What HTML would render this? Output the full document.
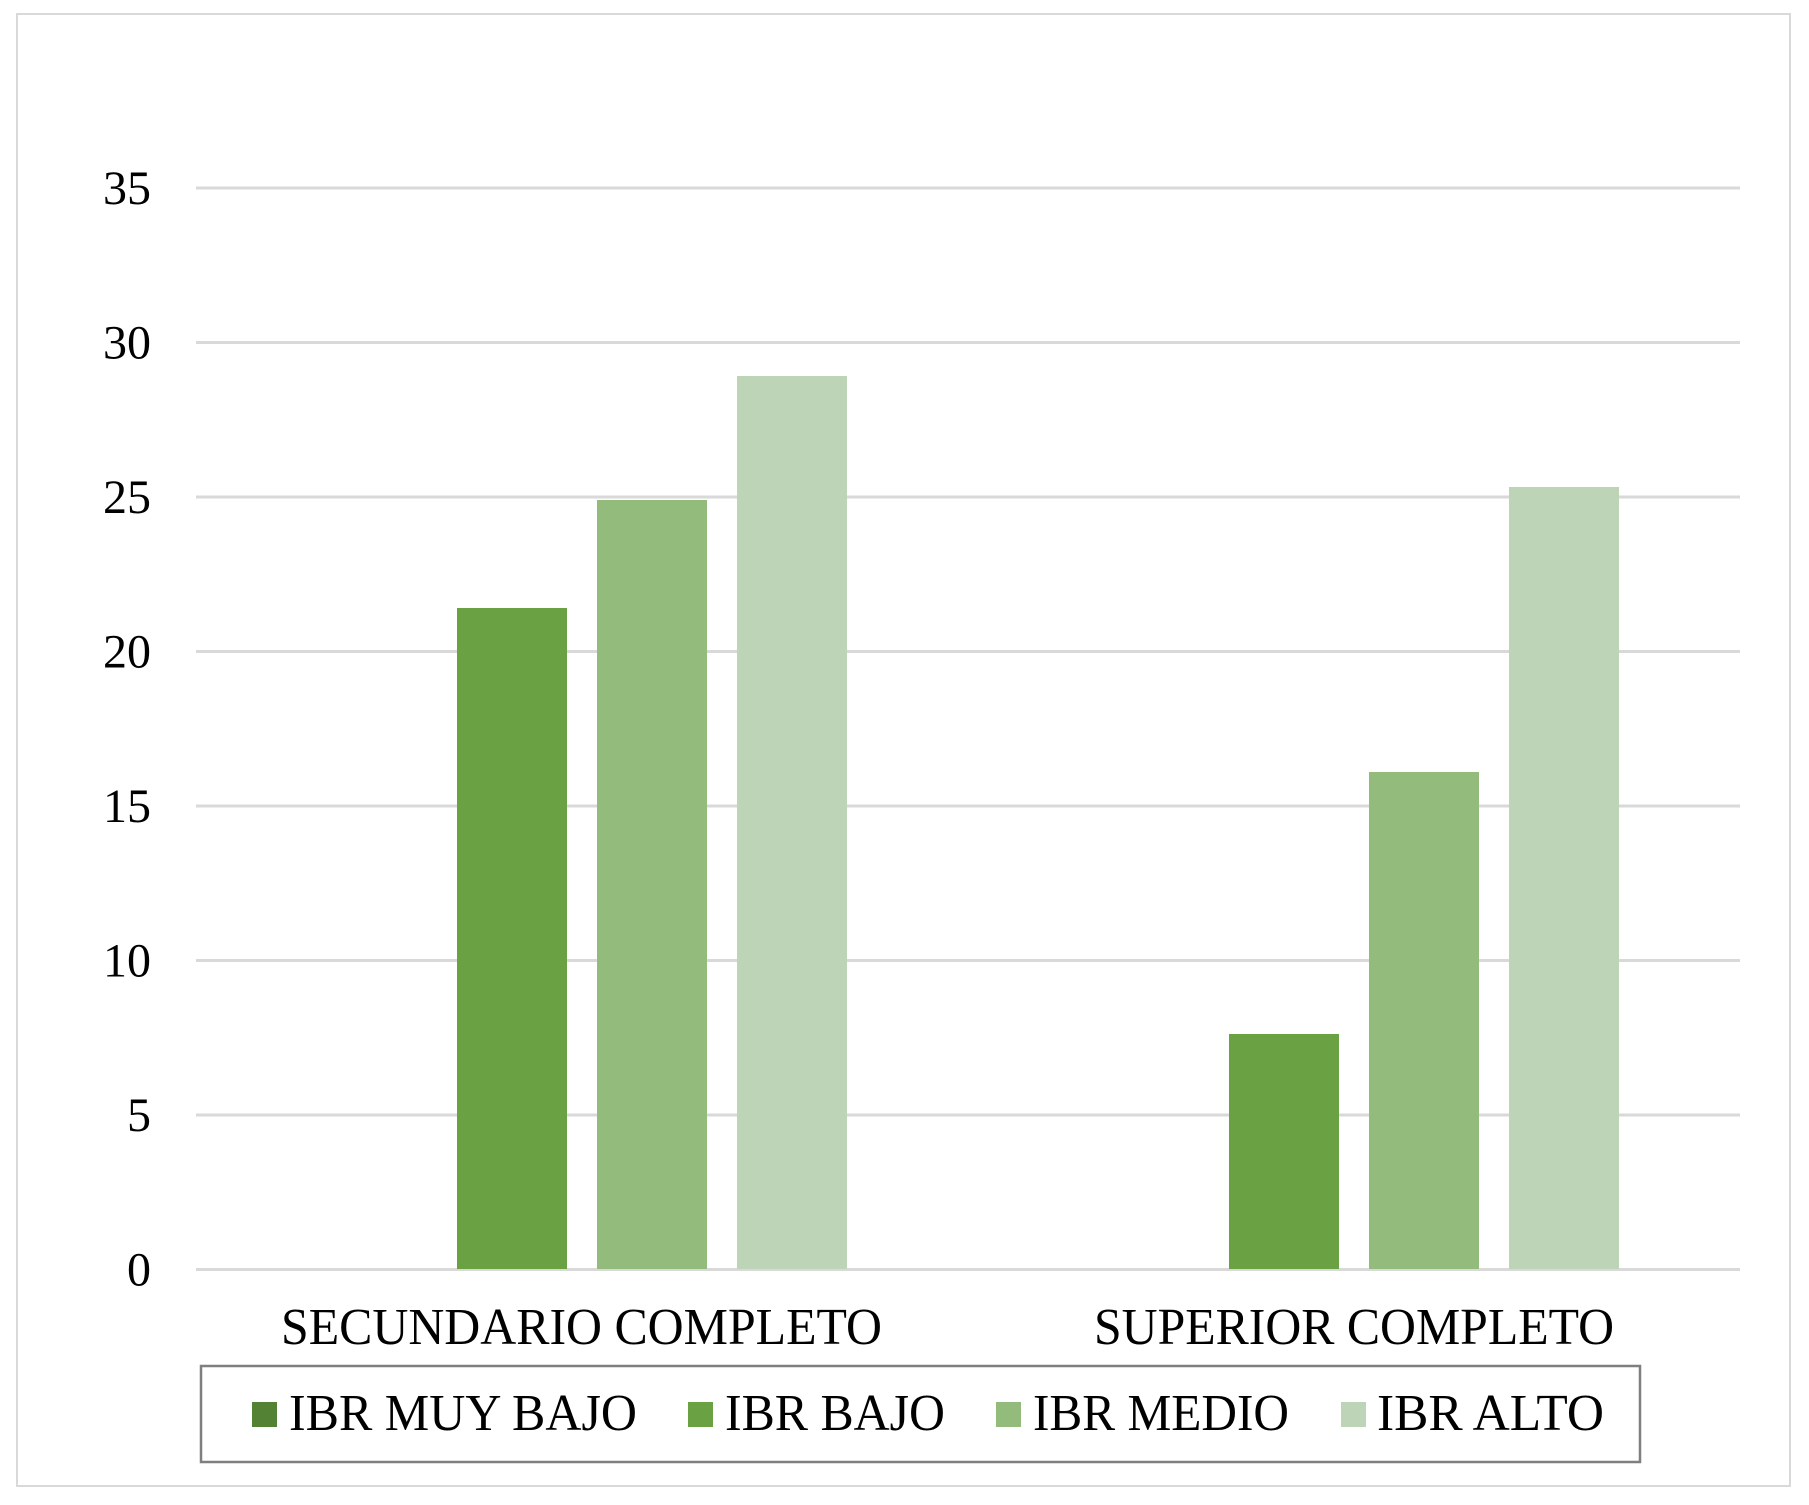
<!DOCTYPE html>
<html><head><meta charset="utf-8"><style>
html,body{margin:0;padding:0;background:#fff;}
svg{display:block;}
text{font-family:"Liberation Serif","Times New Roman",serif;fill:#000;}
</style></head><body>
<svg width="1809" height="1505" viewBox="0 0 1809 1505" xmlns="http://www.w3.org/2000/svg">
<rect x="17" y="14" width="1773" height="1472" fill="#fff" stroke="#d9d9d9" stroke-width="2"/>
<g stroke="#d9d9d9" stroke-width="3">
<line x1="196" x2="1740" y1="188" y2="188"/>
<line x1="196" x2="1740" y1="342.5" y2="342.5"/>
<line x1="196" x2="1740" y1="497" y2="497"/>
<line x1="196" x2="1740" y1="651.5" y2="651.5"/>
<line x1="196" x2="1740" y1="806" y2="806"/>
<line x1="196" x2="1740" y1="960.5" y2="960.5"/>
<line x1="196" x2="1740" y1="1115" y2="1115"/>
<line x1="196" x2="1740" y1="1269.5" y2="1269.5"/>
</g>
<g font-size="48" text-anchor="end">
<text x="151" y="204">35</text>
<text x="151" y="358.5">30</text>
<text x="151" y="513">25</text>
<text x="151" y="667.5">20</text>
<text x="151" y="822">15</text>
<text x="151" y="976.5">10</text>
<text x="151" y="1131">5</text>
<text x="151" y="1285.5">0</text>
</g>
<rect x="457" y="608" width="110" height="661" fill="#6aa142"/>
<rect x="597" y="500" width="110" height="769" fill="#93bb7b"/>
<rect x="737" y="376" width="110" height="893" fill="#bdd5b6"/>
<rect x="1229" y="1034" width="110" height="235" fill="#6aa142"/>
<rect x="1369" y="772" width="110" height="497" fill="#93bb7b"/>
<rect x="1509" y="487" width="110" height="782" fill="#bdd5b6"/>
<text x="281" y="1344" font-size="52" textLength="601" lengthAdjust="spacingAndGlyphs">SECUNDARIO COMPLETO</text>
<text x="1094" y="1344" font-size="52" textLength="520" lengthAdjust="spacingAndGlyphs">SUPERIOR COMPLETO</text>
<rect x="201" y="1366" width="1439" height="96" fill="#fff" stroke="#7f7f7f" stroke-width="2.5"/>
<rect x="252" y="1402" width="25" height="25" fill="#548235"/>
<text x="289" y="1430" font-size="52" textLength="348" lengthAdjust="spacingAndGlyphs">IBR MUY BAJO</text>
<rect x="688" y="1402" width="25" height="25" fill="#6aa142"/>
<text x="725" y="1430" font-size="52" textLength="220" lengthAdjust="spacingAndGlyphs">IBR BAJO</text>
<rect x="996" y="1402" width="25" height="25" fill="#93bb7b"/>
<text x="1033" y="1430" font-size="52" textLength="256" lengthAdjust="spacingAndGlyphs">IBR MEDIO</text>
<rect x="1341" y="1402" width="25" height="25" fill="#bdd5b6"/>
<text x="1377" y="1430" font-size="52" textLength="227" lengthAdjust="spacingAndGlyphs">IBR ALTO</text>
</svg>
</body></html>
